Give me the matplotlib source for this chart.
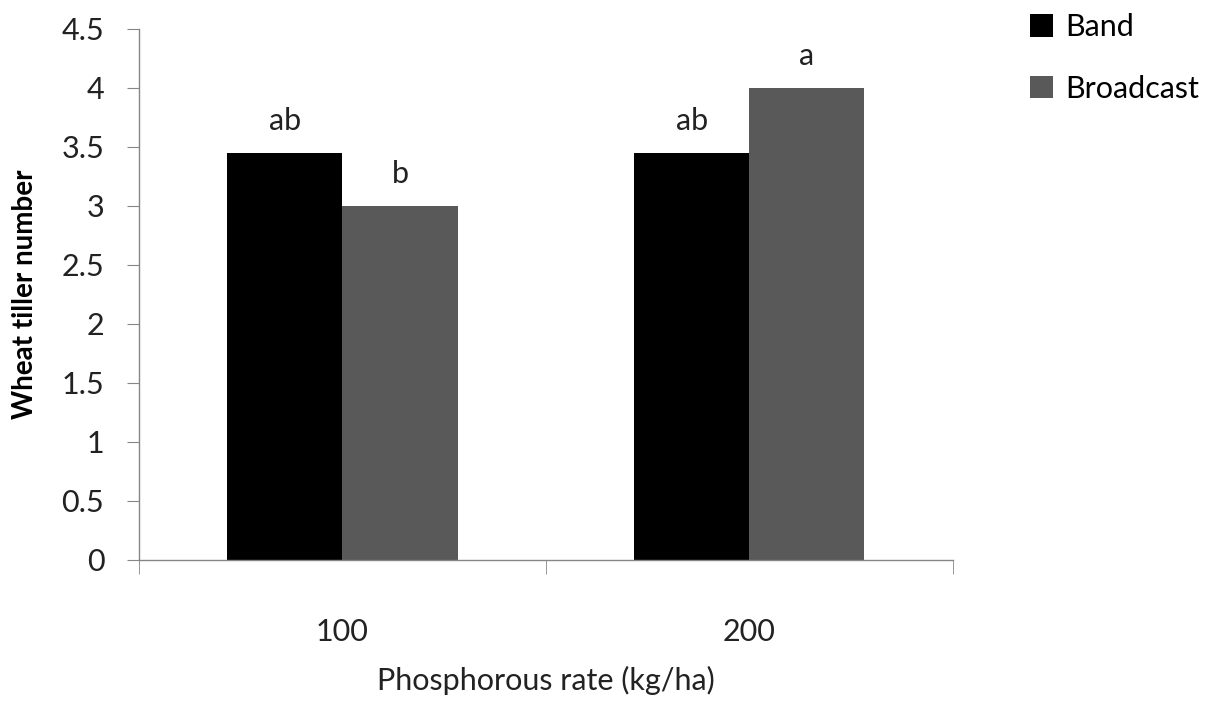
import numpy as np
import matplotlib.pyplot as plt

rates = ['100', '200']
band = [3.45, 3.45]
broadcast = [3.0, 4.0]
band_letters = ['ab', 'ab']
broadcast_letters = ['b', 'a']

plt.rcParams['font.family'] = ['Lato', 'DejaVu Sans']

fig = plt.figure(figsize=(12.09, 7.02), dpi=100)
ax = fig.add_axes([0.115, 0.2023, 0.673, 0.7564])

x = np.arange(len(rates))
w = 0.283
b1 = ax.bar(x - w / 2, band, w, color='#000000', label='Band')
b2 = ax.bar(x + w / 2, broadcast, w, color='#595959', label='Broadcast')

for rect, txt in zip(b1, band_letters):
    ax.text(rect.get_x() + rect.get_width() / 2, rect.get_height() + 0.15, txt,
            ha='center', va='bottom', fontsize=22, color='#222222')
for rect, txt in zip(b2, broadcast_letters):
    ax.text(rect.get_x() + rect.get_width() / 2, rect.get_height() + 0.15, txt,
            ha='center', va='bottom', fontsize=22, color='#222222')

ax.set_xlim(-0.5, len(rates) - 0.5)
ax.set_ylim(0, 4.5)
ax.set_yticks(np.arange(0, 4.51, 0.5))
ax.set_yticklabels(['0', '0.5', '1', '1.5', '2', '2.5', '3', '3.5', '4', '4.5'])
ax.set_xticks(x)
ax.set_xticklabels(rates)
ax.set_xticks(np.arange(-0.5, len(rates), 1), minor=True)

for s in ['top', 'right']:
    ax.spines[s].set_visible(False)
for s in ['left', 'bottom']:
    ax.spines[s].set_color('#868686')
    ax.spines[s].set_linewidth(1)

ax.tick_params(axis='y', which='major', length=9, color='#868686', labelsize=22, pad=16, labelcolor='#222222')
ax.tick_params(axis='x', which='major', length=0, labelsize=22, pad=42, labelcolor='#222222')
ax.tick_params(axis='x', which='minor', length=10, color='#868686')

ax.set_ylabel('Wheat tiller number', fontsize=20, fontweight='bold', labelpad=17)
ax.set_xlabel('Phosphorous rate (kg/ha)', fontsize=22, labelpad=14, color='#222222')

ax.legend(loc='upper left', bbox_to_anchor=(1.095, 1.03), frameon=False, fontsize=22,
          borderaxespad=0, borderpad=0,
          handlelength=0.75, handleheight=0.75, handletextpad=0.4, labelspacing=1.1)

fig.savefig('out.png', dpi=100)
